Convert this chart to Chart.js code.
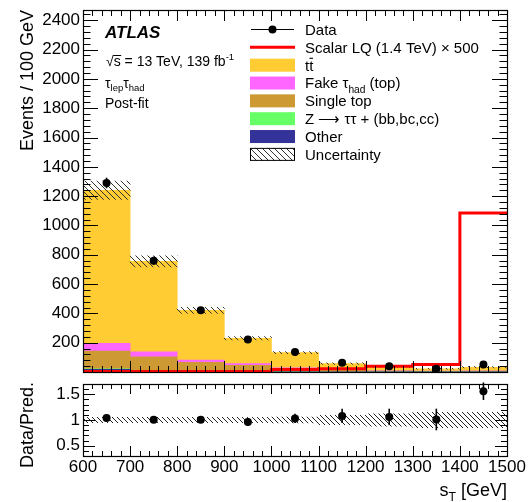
<!DOCTYPE html>
<html><head><meta charset="utf-8">
<script src="https://cdn.jsdelivr.net/npm/chart.js@4/dist/chart.umd.min.js"></script>
<style>
html,body{margin:0;padding:0;background:#fff;width:529px;height:502px;overflow:hidden;}
canvas{position:absolute;left:0;}
#c1{top:0;}
#c2{top:380px;}
</style></head><body>
<canvas id="c1" width="529" height="380"></canvas>
<canvas id="c2" width="529" height="122"></canvas>
<script>
// ---------------- data ----------------
const binEdges   = [600, 700, 800, 900, 1000, 1100, 1200, 1300, 1400, 1500];
const binCenters = [650, 750, 850, 950, 1050, 1150, 1250, 1350, 1450];
const ttbar      = [1044, 618, 338, 173, 104, 43, 27, 16, 25];
const fakeTau    = [53, 33, 16, 11, 5, 3, 2, 1.5, 1.5];
const singleTop  = [121, 94, 60, 42, 20, 10, 6, 4, 5];
const zTauTau    = [4, 3, 2, 1, 1, 0.5, 0.3, 0.2, 0.2];
const otherBkg   = [18, 7, 4, 3, 2, 1, 1, 0.5, 0.5];
const signalLQ   = [3, 3, 3, 3, 17, 22, 40, 52, 1085];
const dataCounts = [1290, 759, 422, 221, 136, 63, 40, 22, 51];
const dataErr    = [36, 28, 21, 15, 12, 8, 6, 5, 7];
const relUnc     = [0.05, 0.05, 0.05, 0.05, 0.055, 0.09, 0.12, 0.15, 0.15];
const ratioVals  = [1.04, 1.005, 1.005, 0.96, 1.03, 1.08, 1.06, 1.01, 1.56];
const ratioErr   = [0.03, 0.04, 0.05, 0.07, 0.09, 0.14, 0.16, 0.21, 0.17];
const yTicksMain  = [200, 400, 600, 800, 1000, 1200, 1400, 1600, 1800, 2000, 2200, 2400];
const yTicksRatio = [0.5, 1, 1.5];
const xTicks      = [600, 700, 800, 900, 1000, 1100, 1200, 1300, 1400, 1500];

// ---------------- helpers ----------------
const FONT = "'Liberation Sans', Arial, Helvetica, sans-serif";
const COL = {tt:'#FFCC33', fake:'#FF66FF', st:'#CC9933', z:'#66FF66', oth:'#333399', sig:'#FF0000'};

function hatch(ctx, s, color){
  const c = document.createElement('canvas'); c.width = s; c.height = s;
  const g = c.getContext('2d');
  g.strokeStyle = color; g.lineWidth = 1;
  g.beginPath();
  g.moveTo(0,0); g.lineTo(s,s);
  g.moveTo(-1,s-1); g.lineTo(1,s+1);
  g.moveTo(s-1,-1); g.lineTo(s+1,1);
  g.stroke();
  return ctx.createPattern(c, 'repeat');
}

function rich(ctx, x, y, parts, base, align){
  const items = parts.map(p => {
    const mode = p[1] || '';
    const size = (mode === 'sub' || mode === 'sup') ? base * 0.68 : base;
    return {t:p[0], mode, font:(p[2] ? p[2] + ' ' : '') + size + 'px ' + FONT};
  });
  let w = 0;
  items.forEach(it => { ctx.font = it.font; it.w = ctx.measureText(it.t).width; w += it.w; });
  let cx = align === 'right' ? x - w : (align === 'center' ? x - w/2 : x);
  const xs = [];
  items.forEach(it => {
    ctx.font = it.font;
    const dy = it.mode === 'sub' ? base * 0.28 : (it.mode === 'sup' ? -base * 0.42 : 0);
    xs.push(cx);
    ctx.fillText(it.t, cx, y + dy);
    cx += it.w;
  });
  xs.push(cx);
  return xs;
}

function line(ctx, x1, y1, x2, y2){ ctx.beginPath(); ctx.moveTo(x1,y1); ctx.lineTo(x2,y2); ctx.stroke(); }

function framePlugin(o){
  return {id:'frameTicks', afterDraw(chart){
    const {ctx, chartArea:a, scales:{x, y}} = chart;
    ctx.save(); ctx.strokeStyle = '#000'; ctx.lineWidth = 1;
    const nx = Math.round((o.xmax - o.xmin) / o.xminor);
    for (let k = 0; k <= nx; k++){
      const v = o.xmin + k * o.xminor;
      const major = (k % o.xper) === 0;
      const L = major ? o.xMaj : o.xMin;
      const px = Math.round(x.getPixelForValue(v)) + 0.5;
      line(ctx, px, a.bottom, px, a.bottom - L);
      line(ctx, px, a.top, px, a.top + L);
    }
    const ny = Math.floor((o.ymax - o.ymin) / o.yminor + 1e-6);
    for (let k = 0; k <= ny; k++){
      const v = o.ymin + k * o.yminor;
      const r = v / o.ymajor;
      const major = Math.abs(r - Math.round(r)) < 1e-6;
      const L = major ? o.yMaj : o.yMin;
      const py = Math.round(y.getPixelForValue(v)) + 0.5;
      line(ctx, a.left, py, a.left + L, py);
      line(ctx, a.right, py, a.right - L, py);
    }
    ctx.lineWidth = 1.2;
    ctx.strokeRect(a.left + 0.5, a.top + 0.5, a.right - a.left, a.bottom - a.top);
    ctx.restore();
  }};
}

function errPlugin(xs, ys, es){
  return {id:'errBars', afterDatasetsDraw(chart){
    const {ctx, scales:{x, y}} = chart;
    ctx.save(); ctx.strokeStyle = '#000'; ctx.lineWidth = 1.6;
    xs.forEach((xv, i) => {
      const px = x.getPixelForValue(xv);
      line(ctx, px, y.getPixelForValue(ys[i] - es[i]), px, y.getPixelForValue(ys[i] + es[i]));
    });
    ctx.restore();
  }};
}

// ---------------- main panel ----------------
const ctx1 = document.getElementById('c1').getContext('2d');
const hatchMain = hatch(ctx1, 6, '#333');
const totalPred = binCenters.map((_, i) => ttbar[i] + fakeTau[i] + singleTop[i] + zTauTau[i] + otherBkg[i]);
const pts = (arr) => binCenters.map((x, i) => ({x, y: arr[i]}));
const sigPts = binEdges.slice(0, -1).map((x, i) => ({x, y: signalLQ[i]}));
sigPts.push({x: binEdges[binEdges.length - 1], y: signalLQ[signalLQ.length - 1]});

const bkgBar = (label, arr, color) => ({type:'bar', label, data: pts(arr), backgroundColor: color,
  borderWidth: 0, stack: 'bkg', barPercentage: 1, categoryPercentage: 1});

const annotPlugin = {id:'annot', afterDraw(chart){
  const ctx = chart.ctx;
  ctx.save(); ctx.fillStyle = '#000'; ctx.textBaseline = 'alphabetic';
  ctx.font = 'italic bold 17px ' + FONT;
  ctx.fillText('ATLAS', 105, 38);
  const xs = rich(ctx, 106, 66, [['√'], ['s'], [' = 13 TeV, 139 fb'], ['-1', 'sup']], 14, 'left');
  ctx.strokeStyle = '#000'; ctx.lineWidth = 1;
  line(ctx, xs[1] - 0.5, 55.5, xs[2] + 0.5, 55.5);
  rich(ctx, 105, 87.5, [['τ'], ['lep', 'sub'], ['τ'], ['had', 'sub']], 14, 'left');
  ctx.font = '14px ' + FONT;
  ctx.fillText('Post-fit', 105, 108);

  // legend
  const L0 = 250, L1 = 295, TX = 305, Y0 = 29.5, DY = 17.84, FS = 15;
  const rowY = i => Y0 + i * DY;
  ctx.lineWidth = 1.2; ctx.strokeStyle = '#000';
  line(ctx, L0 + 1, rowY(0), L1 - 1, rowY(0));
  ctx.beginPath(); ctx.arc((L0 + L1) / 2, rowY(0), 4, 0, Math.PI * 2); ctx.fill();
  ctx.strokeStyle = COL.sig; ctx.lineWidth = 3;
  line(ctx, L0, rowY(1), L1, rowY(1));
  const boxes = [[2, COL.tt], [3, COL.fake], [4, COL.st], [5, COL.z], [6, COL.oth]];
  boxes.forEach(([i, c]) => { ctx.fillStyle = c; ctx.fillRect(L0, rowY(i) - 6.5, L1 - L0, 13); });
  ctx.fillStyle = hatchMain; ctx.fillRect(L0, rowY(7) - 6.5, L1 - L0, 13);
  ctx.strokeStyle = '#000'; ctx.lineWidth = 1;
  ctx.strokeRect(L0 + 0.5, rowY(7) - 6.5 + 0.5, L1 - L0 - 1, 12);
  ctx.fillStyle = '#000';
  const b = i => rowY(i) + 5.4;
  rich(ctx, TX, b(0), [['Data']], FS);
  rich(ctx, TX, b(1), [['Scalar LQ (1.4 TeV) × 500']], FS);
  const tx = rich(ctx, TX, b(2), [['t'], ['t']], FS);
  ctx.lineWidth = 1.1; line(ctx, tx[1] + 0.3, b(2) - 12.3, tx[2] - 0.3, b(2) - 12.3);
  rich(ctx, TX, b(3), [['Fake '], ['τ'], ['had', 'sub'], [' (top)']], FS);
  rich(ctx, TX, b(4), [['Single top']], FS);
  rich(ctx, TX, b(5), [['Z ⟶ ττ + (bb,bc,cc)']], FS);
  rich(ctx, TX, b(6), [['Other']], FS);
  rich(ctx, TX, b(7), [['Uncertainty']], FS);

  ctx.save();
  ctx.translate(33, 10); ctx.rotate(-Math.PI / 2);
  ctx.font = '18px ' + FONT; ctx.textAlign = 'right'; ctx.textBaseline = 'alphabetic';
  ctx.fillText('Events / 100 GeV', 0, 0);
  ctx.restore();
  ctx.restore();
}};

new Chart(ctx1, {
  type: 'bar',
  data: {datasets: [
    {type:'line', label:'Data', data: pts(dataCounts), showLine:false, pointRadius:4, pointHoverRadius:4,
      pointBackgroundColor:'#000', pointBorderColor:'#000', pointBorderWidth:0, stack:'data', clip:false},
    {type:'line', label:'Scalar LQ', data: sigPts, stepped:'before', borderColor: COL.sig, borderWidth:3,
      pointRadius:0, fill:false, stack:'sig'},
    {type:'bar', label:'Uncertainty', data: binCenters.map((x, i) => ({x, y:[totalPred[i] * (1 - relUnc[i]), totalPred[i] * (1 + relUnc[i])]})),
      backgroundColor: hatchMain, borderWidth:0, stack:'unc', grouped:false, barPercentage:1, categoryPercentage:1},
    bkgBar('Other', otherBkg, COL.oth),
    bkgBar('Z', zTauTau, COL.z),
    bkgBar('Single top', singleTop, COL.st),
    bkgBar('Fake tau', fakeTau, COL.fake),
    bkgBar('ttbar', ttbar, COL.tt)
  ]},
  options: {
    responsive:false, animation:false, devicePixelRatio:1,
    layout:{padding:{top:10, right:22, bottom:8, left:0}},
    plugins:{legend:{display:false}, tooltip:{enabled:false}},
    scales:{
      x:{type:'linear', min:600, max:1500, offset:false, display:false, ticks:{stepSize:100}},
      y:{type:'linear', min:0, max:2470, stacked:true,
        grid:{display:false, drawTicks:false}, border:{display:false},
        ticks:{font:{family:FONT, size:17}, color:'#000', padding:3, callback: v => String(v)},
        afterBuildTicks: s => { s.ticks = yTicksMain.map(v => ({value:v})); },
        afterFit: s => { s.width = 83; s.paddingTop = 0; s.paddingBottom = 0; }}
    }
  },
  plugins:[errPlugin(binCenters, dataCounts, dataErr),
    framePlugin({xmin:600, xmax:1500, xminor:20, xper:5, xMaj:11, xMin:6,
                 ymin:0, ymax:2470, yminor:40, ymajor:200, yMaj:15, yMin:7.5}),
    annotPlugin]
});

// ---------------- ratio panel ----------------
const ctx2 = document.getElementById('c2').getContext('2d');
const hatchRatio = hatch(ctx2, 5, '#222');
const ratioAnnot = {id:'ratioAnnot', afterDraw(chart){
  const ctx = chart.ctx;
  ctx.save(); ctx.fillStyle = '#000';
  ctx.save();
  ctx.translate(33, 45); ctx.rotate(-Math.PI / 2);
  ctx.font = '18px ' + FONT; ctx.textAlign = 'center'; ctx.textBaseline = 'alphabetic';
  ctx.fillText('Data/Pred.', 0, 0);
  ctx.restore();
  ctx.textBaseline = 'alphabetic';
  rich(ctx, 507, 116, [['s'], ['T', 'sub'], [' [GeV]']], 18, 'right');
  ctx.restore();
}};

new Chart(ctx2, {
  type:'bar',
  data:{datasets:[
    {type:'line', label:'Ratio', data: pts(ratioVals), showLine:false, pointRadius:4, pointHoverRadius:4,
      pointBackgroundColor:'#000', pointBorderColor:'#000', pointBorderWidth:0, clip:false},
    {type:'bar', label:'Unc', data: binCenters.map((x, i) => ({x, y:[1 - relUnc[i], 1 + relUnc[i]]})),
      backgroundColor: hatchRatio, borderWidth:0, barPercentage:1, categoryPercentage:1}
  ]},
  options:{
    responsive:false, animation:false, devicePixelRatio:1,
    layout:{padding:{top:3, right:22, bottom:0, left:0}},
    plugins:{legend:{display:false}, tooltip:{enabled:false}},
    scales:{
      x:{type:'linear', min:600, max:1500, offset:false,
        grid:{display:false, drawTicks:false}, border:{display:false},
        ticks:{font:{family:FONT, size:17}, color:'#000', padding:1, autoSkip:false, maxRotation:0, callback: v => String(v)},
        afterBuildTicks: s => { s.ticks = xTicks.map(v => ({value:v})); },
        afterFit: s => { s.height = 46; s.paddingLeft = 0; s.paddingRight = 0; }},
      y:{type:'linear', min:0.3, max:1.7,
        grid:{display:false, drawTicks:false}, border:{display:false},
        ticks:{font:{family:FONT, size:17}, color:'#000', padding:3, callback: v => String(v)},
        afterBuildTicks: s => { s.ticks = yTicksRatio.map(v => ({value:v})); },
        afterFit: s => { s.width = 83; s.paddingTop = 0; s.paddingBottom = 0; }}
    }
  },
  plugins:[errPlugin(binCenters, ratioVals, ratioErr),
    framePlugin({xmin:600, xmax:1500, xminor:20, xper:5, xMaj:10, xMin:5,
                 ymin:0.3, ymax:1.7, yminor:0.1, ymajor:0.5, yMaj:12, yMin:6}),
    ratioAnnot]
});
</script>
</body></html>
